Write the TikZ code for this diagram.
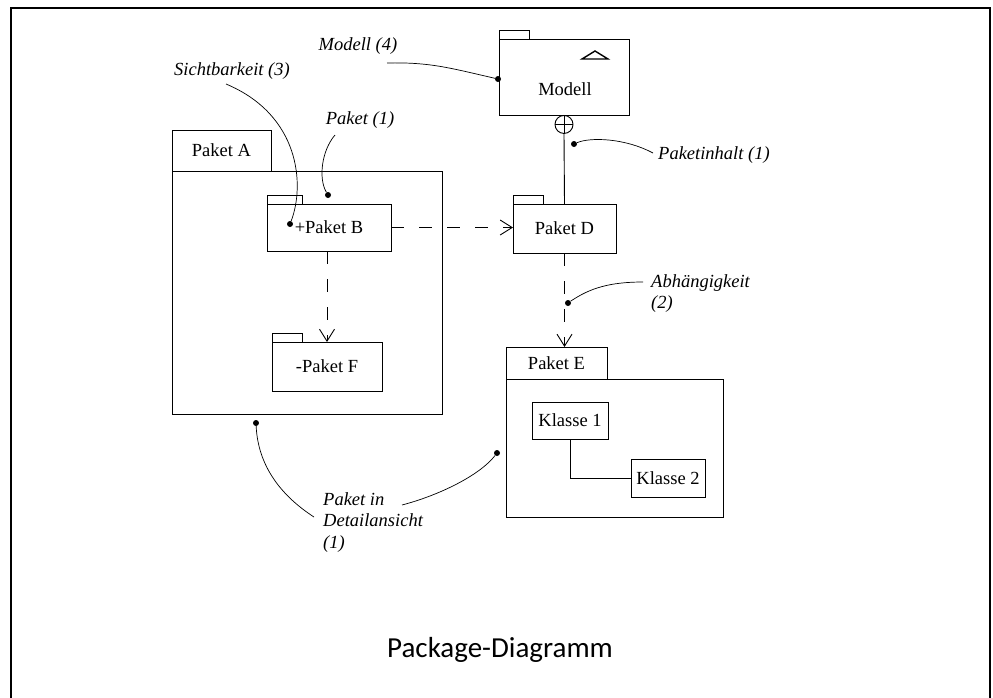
\documentclass[tikz,border=0pt]{standalone}
\usepackage{fontspec}
\setmainfont{Liberation Serif}
\newfontfamily\titlefont{Carlito}
\usepackage{tikz}
\usetikzlibrary{arrows.meta,calc,positioning}
\tikzstyle{element}=[
  draw=black,
  font={\fontsize{18.5}{21}\selectfont},
  inner sep=0pt,
  line width=.9pt,
  outer sep=0pt,
  rectangle,
  text centered,
]
\tikzstyle{tab}=[
  element,
  anchor=south west,
  minimum height=9pt,
  minimum width=30pt,
]
\tikzstyle{dep}=[
  draw=black,
  line width=.9pt,
  dash pattern=on 13pt off 15pt,
  -{Straight Barb[length=12pt,width=15pt,line width=.9pt]},
]
\tikzstyle{note}=[
  font={\fontsize{18.5}{21.5}\selectfont\itshape},
  inner sep=0pt,
  align=left,
]
\tikzstyle{noteline}=[
  draw=black,
  line width=.7pt,
]
\tikzstyle{dot}=[
  circle,
  fill=black,
  inner sep=0pt,
  minimum size=6pt,
]
\tikzset{
  x=1pt,
  y=-1pt,
}
\begin{document}
\begin{tikzpicture}
     \useasboundingbox (0,0) rectangle (993,697);
     \draw [line width=2pt] (11,712) -- (11,8) -- (990,8) -- (990,712);
     %%
     \node (modell) [element, minimum width=130pt, minimum height=76pt] at (564,77) {};
     \node (modelltab) [tab] at (modell.north west) {};
     \node (modelltext) [element, draw=none] at (565,89) {Modell};
     \draw [line width=1.4pt] ($(modell.north east)+(-47,20)$) -- ++(13,-8) -- ++(13,8) -- cycle;
     \node (plus) [circle, draw, line width=.9pt, minimum size=18pt, inner sep=0pt, anchor=north] at (modell.south) {};
     \draw [line width=.9pt] (plus.north) -- (plus.south) (plus.west) -- (plus.east);
     %%
     \node (paketD) [element, minimum width=103pt, minimum height=49pt] at (564.5,228.5) {Paket D};
     \node (paketDtab) [tab] at (paketD.north west) {};
     \draw [line width=.9pt] (plus.south) -- (paketD.north);
     %%
     \node (paketA) [element, minimum width=270pt, minimum height=243pt] at (307,292.5) {};
     \node (paketAtab) [tab, minimum width=99pt, minimum height=41pt] at (paketA.north west) {Paket A};
     \node (paketB) [element, minimum width=124pt, minimum height=47pt] at (329,227.5) {+Paket B};
     \node (paketBtab) [tab, minimum width=35pt] at (paketB.north west) {};
     \node (paketF) [element, minimum width=110pt, minimum height=49pt] at (327,366.5) {-Paket F};
     \node (paketFtab) [tab] at (paketF.north west) {};
     %%
     \node (paketE) [element, minimum width=217pt, minimum height=138pt] at (614.5,448) {};
     \node (paketEtab) [tab, minimum width=101pt, minimum height=32pt] at (paketE.north west) {Paket E};
     \node (klasse1) [element, minimum width=76pt, minimum height=37pt] at (570,420.5) {Klasse 1};
     \node (klasse2) [element, minimum width=74pt, minimum height=38pt] at (668,478) {Klasse 2};
     \draw [line width=.9pt] (klasse1.south) |- (klasse2.west);
     %%
     \draw [dep] (paketB.east) -- (paketB.east -| paketD.west);
     \draw [dep] (paketF.north |- paketB.south) -- (paketF.north);
     \draw [dep] (paketD.south) -- (paketD.south |- paketEtab.north);
     %%
     \node (modellnote) [note] at (358,46) {Modell (4)};
     \coordinate (modellstart) at (387,63);
     \node (modelldot) [dot] at (498,79) {};
     \draw [noteline] (modellstart) .. controls (430,62) and (450,68) .. (modelldot);
     %%
     \node (sichtnote) [note] at (232,71) {Sichtbarkeit (3)};
     \coordinate (sichtstart) at (226,84);
     \node (sichtdot) [dot] at (290,224) {};
     \draw [noteline] (sichtstart) .. controls (300,115) and (305,185) .. (sichtdot);
     %%
     \node (paketnote) [note] at (360,120) {Paket (1)};
     \coordinate (paketstart) at (335,135);
     \node (paketdot) [dot] at (328,195) {};
     \draw [noteline] (paketstart) .. controls (322,150) and (318,178) .. (paketdot);
     %%
     \node (inhaltnote) [note, anchor=west] at (658,155) {Paketinhalt (1)};
     \coordinate (inhaltend) at (653,153);
     \node (inhaltdot) [dot] at (574,144) {};
     \draw [noteline] (inhaltdot) .. controls (590,137) and (625,138) .. (inhaltend);
     %%
     \node (abhnote) [note, anchor=north west] at (651,274) {Abhängigkeit\\(2)};
     \coordinate (abhend) at (643,282);
     \node (abhdot) [dot] at (568,303) {};
     \draw [noteline] (abhdot) .. controls (590,288) and (610,282) .. (abhend);
     %%
     \node (detailnote) [note, anchor=north west] at (323,492) {Paket in\\Detailansicht\\(1)};
     \coordinate (detailleft) at (314,517);
     \coordinate (detailright) at (402,505);
     \node (detaildotA) [dot] at (256,423) {};
     \node (detaildotE) [dot] at (497,453) {};
     \draw [noteline] (detaildotA) .. controls (258,465) and (280,495) .. (detailleft);
     \draw [noteline] (detailright) .. controls (440,495) and (480,475) .. (detaildotE);
     %%
     \node (title) [font={\titlefont\fontsize{29}{34}\selectfont}] at (500,650) {Package-Diagramm};
   \end{tikzpicture}
\end{document}
